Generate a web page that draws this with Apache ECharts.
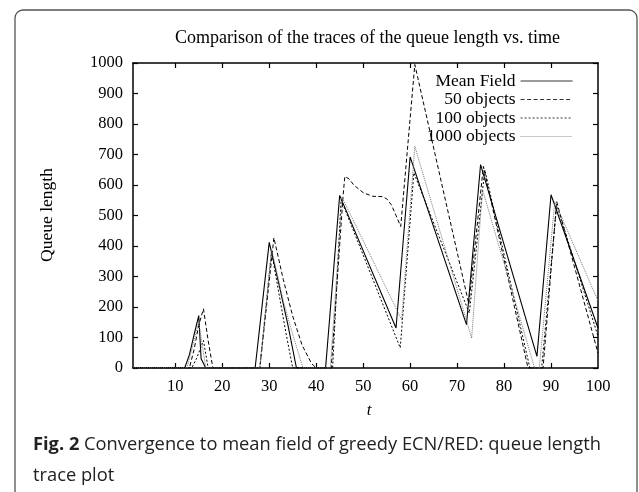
<!DOCTYPE html>
<html><head><meta charset="utf-8">
<script src="https://cdn.jsdelivr.net/npm/echarts@6/dist/echarts.min.js"></script>
<style>html,body{margin:0;padding:0;background:#fff}#c{width:639px;height:492px}</style>
</head><body><div id="c"></div>
<script>
// ---- data ----
const seriesNames = ['Mean Field', '50 objects', '100 objects', '1000 objects'];
const xTickLabels = [10, 20, 30, 40, 50, 60, 70, 80, 90, 100];
const yTickStep = 100;

const tMF = [1, 12, 13, 14, 15, 15.5, 16.5, 27, 30, 32, 34, 35.8, 42, 45, 57, 60, 72, 75, 87, 90, 100];
const qMF = [0, 0, 43, 109, 172, 30, 0, 0, 412, 280, 140, 0, 0, 566, 131, 692, 142, 667, 38, 568, 131];

const t50 = [1, 13, 14, 15, 16, 17, 18, 28, 31, 33, 35, 37, 39, 40, 43.2, 45.7, 46.1, 47, 48, 50, 52, 54, 55, 56, 57, 58, 61, 72.5, 75.6, 85.1, 88.3, 91.2, 100];
const q50 = [0, 0, 60, 140, 194, 90, 0, 0, 427, 290, 170, 75, 15, 0, 0, 560, 628, 620, 600, 575, 563, 562, 555, 535, 500, 464, 995, 210, 661, 0, 0, 546, 49];

const t100 = [1, 13.5, 14.5, 16, 17, 28, 30.5, 32, 33.5, 35, 43.5, 45.3, 57.9, 60.8, 72.6, 75.9, 85.5, 88, 91.2, 100];
const q100 = [0, 0, 30, 90, 0, 0, 382, 250, 120, 0, 0, 552, 66, 640, 180, 650, 0, 0, 535, 104];

const t1000 = [1, 12.5, 15, 16.5, 28, 30.5, 33, 35, 37.2, 43, 45.5, 58.2, 61, 73.1, 75.4, 86.5, 87.5, 90.8, 100];
const q1000 = [0, 0, 150, 0, 0, 390, 220, 110, 0, 0, 560, 158, 727, 98, 585, 0, 0, 546, 220];

function pairs(t, q) { return t.map((v, i) => [v, q[i]]); }

const serif = '"Liberation Serif", "DejaVu Serif", serif';
const chart = echarts.init(document.getElementById('c'), null, {renderer: 'canvas'});

const axisLine = {show: true, onZero: false, lineStyle: {color: '#000', width: 1.5}};
const tick = {show: true, inside: true, length: 5, lineStyle: {color: '#000', width: 1.2}};
const xTickVals = xTickLabels.filter(v => v < 100);

const styles = [
  {color: '#000', width: 1.1, type: 'solid'},
  {color: '#000', width: 1, type: [4, 2.5]},
  {color: '#000', width: 1, type: [2, 2]},
  {color: '#777', width: 1, type: [1, 1]}
];
const dataSets = [pairs(tMF, qMF), pairs(t50, q50), pairs(t100, q100), pairs(t1000, q1000)];

chart.setOption({
  animation: false,
  backgroundColor: '#fff',
  title: {
    text: 'Comparison of the traces of the queue length vs. time',
    left: 170, top: 24,
    textStyle: {fontFamily: serif, fontSize: 18, fontWeight: 'normal', color: '#000'}
  },
  grid: {left: 133, right: 41, top: 63, bottom: 124, containLabel: false},
  legend: {
    orient: 'vertical', right: 61, top: 67, align: 'right',
    itemWidth: 52, itemHeight: 12, itemGap: 0.5, itemTextGap: 11,
    itemStyle: {opacity: 0},
    lineStyle: {width: 0.8},
    textStyle: {fontFamily: serif, fontSize: 17.5, color: '#000'},
    data: seriesNames
  },
  xAxis: [
    {type: 'value', min: 1, max: 100, position: 'bottom',
     axisLine: axisLine, axisTick: Object.assign({customValues: xTickVals}, tick),
     axisLabel: {customValues: xTickLabels, margin: 10, color: '#000', fontFamily: serif, fontSize: 16.5,
       formatter: v => String(v)},
     splitLine: {show: false}},
    {type: 'value', min: 1, max: 100, position: 'top',
     axisLine: axisLine, axisTick: Object.assign({customValues: xTickVals}, tick),
     axisLabel: {show: false}, splitLine: {show: false}}
  ],
  yAxis: [
    {type: 'value', min: 0, max: 1000, interval: yTickStep, position: 'left',
     axisLine: axisLine, axisTick: tick,
     axisLabel: {margin: 10, color: '#000', fontFamily: serif, fontSize: 16.5, formatter: v => String(v)},
     splitLine: {show: false}},
    {type: 'value', min: 0, max: 1000, interval: yTickStep, position: 'right',
     axisLine: axisLine, axisTick: tick, axisLabel: {show: false}, splitLine: {show: false}}
  ],
  series: seriesNames.map((n, i) => ({
    name: n, type: 'line', data: dataSets[i], symbol: 'none', showSymbol: false,
    xAxisIndex: 0, yAxisIndex: 0, clip: true,
    lineStyle: styles[i], itemStyle: {color: styles[i].color}
  })),
  graphic: [
    {type: 'rect', shape: {x: 15, y: 10, width: 622, height: 520, r: 8},
     style: {fill: 'none', stroke: '#555', lineWidth: 1.3}, silent: true},
    {type: 'text', x: 47, y: 215, rotation: Math.PI / 2,
     style: {text: 'Queue length', fontFamily: serif, fontSize: 17.5, fill: '#000', align: 'center', verticalAlign: 'middle'}},
    {type: 'text', x: 369, y: 411,
     style: {text: 't', fontFamily: serif, fontStyle: 'italic', fontSize: 17, fill: '#000', align: 'center', verticalAlign: 'middle'}},
    {type: 'text', x: 33, y: 445,
     style: {text: '{b|Fig. 2} Convergence to mean field of greedy ECN/RED: queue length',
       fontFamily: '"Open Sans", sans-serif', fontSize: 18.3, fill: '#222', verticalAlign: 'middle',
       rich: {b: {fontFamily: '"Open Sans", sans-serif', fontSize: 18.3, fontWeight: 'bold', fill: '#222'}}}},
    {type: 'text', x: 33, y: 476,
     style: {text: 'trace plot', fontFamily: '"Open Sans", sans-serif', fontSize: 18.3, fill: '#222', verticalAlign: 'middle'}}
  ]
});
</script></body></html>
